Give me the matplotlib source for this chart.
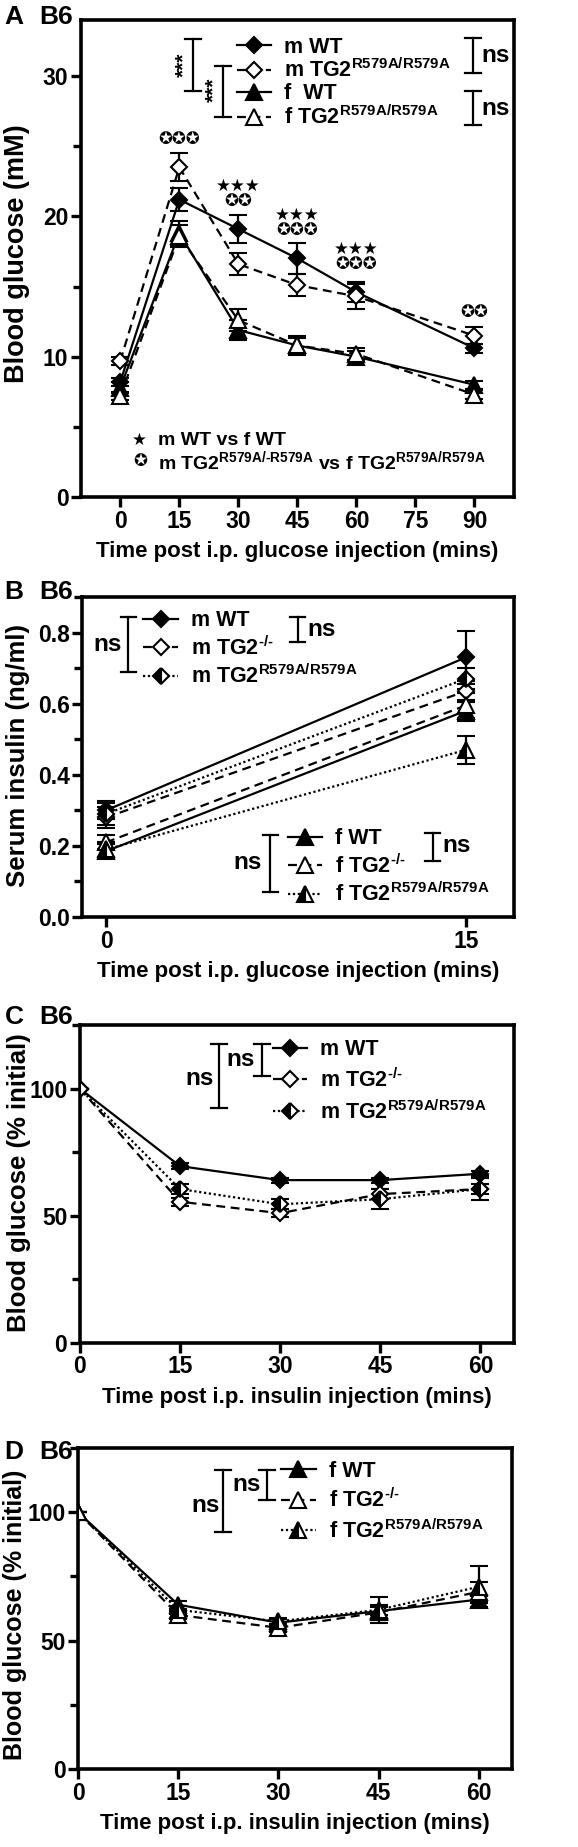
import matplotlib.pyplot as plt
from matplotlib.ticker import MultipleLocator

# ---- data ----
# A: blood glucose (mM) after i.p. glucose
time_a = [0, 15, 30, 45, 60, 90]
a_m_wt = [8.2, 21.2, 19.1, 17.0, 14.6, 10.6]
a_m_wt_err = [0.3, 0.8, 1.0, 1.1, 0.7, 0.3]
a_m_ki = [9.7, 23.5, 16.6, 15.1, 14.3, 11.5]
a_m_ki_err = [0.3, 1.0, 0.8, 0.8, 0.9, 0.6]
a_f_wt = [7.8, 18.8, 11.9, 10.8, 10.0, 8.0]
a_f_wt_err = [0.4, 0.9, 0.7, 0.7, 0.4, 0.3]
a_f_ki = [7.2, 18.6, 12.6, 10.8, 10.2, 7.3]
a_f_ki_err = [0.3, 0.8, 0.8, 0.5, 0.4, 0.3]
a_labels = ["m WT", "m TG2$^{R579A/R579A}$", "f  WT", "f TG2$^{R579A/R579A}$"]
a_star_x = [30, 45, 60]
a_star_y = [22.2, 20.1, 17.7]
a_circ_x = [15, 30, 45, 60, 90]
a_circ_y = [25.5, 21.1, 19.0, 16.6, 13.2]
a_circ_n = [3, 2, 3, 3, 2]

# B: serum insulin (ng/ml)
time_b = [0, 15]
b_m_wt = [0.30, 0.73]
b_m_wt_err = [0.025, 0.075]
b_m_ko = [0.28, 0.635]
b_m_ko_err = [0.03, 0.03]
b_m_ki = [0.29, 0.67]
b_m_ki_err = [0.03, 0.03]
b_f_wt = [0.185, 0.58]
b_f_wt_err = [0.02, 0.03]
b_f_ko = [0.21, 0.595]
b_f_ko_err = [0.02, 0.035]
b_f_ki = [0.19, 0.47]
b_f_ki_err = [0.02, 0.04]
b_m_labels = ["m WT", "m TG2$^{\u2010/\u2010}$", "m TG2$^{R579A/R579A}$"]
b_f_labels = ["f WT", "f TG2$^{\u2010/\u2010}$", "f TG2$^{R579A/R579A}$"]

# C: males, blood glucose (% initial) after i.p. insulin
time_cd = [0, 15, 30, 45, 60]
c_wt = [100, 69.5, 64, 64, 66.5]
c_wt_err = [0, 1.2, 1.0, 1.0, 1.0]
c_ko = [100, 55.5, 51, 58.5, 60.5]
c_ko_err = [0, 1.5, 1.5, 2.0, 2.0]
c_ki = [100, 60.5, 54.5, 56.5, 60.5]
c_ki_err = [0, 2.0, 2.0, 4.0, 4.3]
c_labels = ["m WT", "m TG2$^{\u2010/\u2010}$", "m TG2$^{R579A/R579A}$"]

# D: females
d_wt = [100, 64, 57, 61.5, 66]
d_wt_err = [0, 1.5, 1.5, 1.5, 1.5]
d_ko = [100, 60, 55, 61, 69]
d_ko_err = [0, 1.5, 1.5, 3.0, 4.0]
d_ki = [100, 62, 57.5, 62, 71]
d_ki_err = [0, 1.5, 1.5, 5.0, 8.0]
d_labels = ["f WT", "f TG2$^{\u2010/\u2010}$", "f TG2$^{R579A/R579A}$"]

# ---- style ----
plt.rcParams['font.family'] = ['Liberation Sans', 'DejaVu Sans']
plt.rcParams['font.weight'] = 'bold'
plt.rcParams['axes.labelweight'] = 'bold'
plt.rcParams['mathtext.fontset'] = 'custom'
plt.rcParams['mathtext.rm'] = 'Liberation Sans:bold'
plt.rcParams['mathtext.default'] = 'rm'

TICK = 16.5
XLAB = 16
LEG = 15.5
NS = 17.5

filled_d = dict(marker='D', ms=8.5, mfc='black', mec='black')
open_d = dict(marker='D', ms=8.5, mfc='white', mec='black')
half_d = dict(marker='D', ms=8.5, mfc='black', mfcalt='white', mec='black', fillstyle='left')
filled_t = dict(marker='^', ms=11.5, mfc='black', mec='black')
open_t = dict(marker='^', ms=11.5, mfc='white', mec='black')
half_t = dict(marker='^', ms=11.5, mfc='black', mfcalt='white', mec='black', fillstyle='left')
SOLID = '-'
DASH = (0, (4, 2.5))
DOT = (0, (1, 1.2))


def series(ax, x, y, err, ls, mk):
    cont = ax.errorbar(x, y, yerr=err, color='black', ls=ls, lw=1.6,
                       elinewidth=1.6, capsize=6.5, capthick=1.6, mew=1.5,
                       zorder=3, **mk)
    return cont[0]


def style_axes(ax, xlim, ylim, xticks, yticks, yminor):
    ax.set_xlim(*xlim)
    ax.set_ylim(*ylim)
    ax.set_xticks(xticks)
    ax.set_yticks(yticks)
    ax.yaxis.set_minor_locator(MultipleLocator(yminor))
    for s in ax.spines.values():
        s.set_linewidth(2.6)
    ax.tick_params(which='major', direction='out', length=7, width=2.4,
                   labelsize=TICK, pad=2)
    ax.tick_params(which='minor', direction='out', length=6, width=2.4)
    ax.tick_params(axis='x', which='minor', bottom=False)


def labels(ax, xlab, ylab, ysize, yx, yy):
    ax.set_xlabel(xlab, fontsize=XLAB, labelpad=6)
    ax.set_ylabel(ylab, fontsize=ysize)
    ax.yaxis.set_label_coords(yx, yy)


def bracket(ax, x, y0, y1, cap=0.018):
    kw = dict(color='black', lw=1.6, transform=ax.transAxes, clip_on=False)
    ax.plot([x, x], [y0, y1], **kw)
    ax.plot([x - cap, x + cap], [y0, y0], **kw)
    ax.plot([x - cap, x + cap], [y1, y1], **kw)


def legend(ax, handles, labs, x, y, spacing):
    ax.legend(handles, labs, loc='upper left', bbox_to_anchor=(x, y),
              frameon=False, fontsize=LEG, handlelength=1.6,
              handletextpad=0.6, labelspacing=spacing, borderpad=0,
              borderaxespad=0, numpoints=1)


def ns(ax, x, y, ha='center'):
    ax.text(x, y, "ns", fontsize=NS, ha=ha, va='center', transform=ax.transAxes)


fig = plt.figure(figsize=(5.78, 18.47), dpi=100)

# ---------------- A ----------------
ax = fig.add_axes([0.140, 0.7309, 0.749, 0.2583])
h1 = series(ax, time_a, a_m_wt, a_m_wt_err, SOLID, filled_d)
h2 = series(ax, time_a, a_m_ki, a_m_ki_err, DASH, open_d)
h3 = series(ax, time_a, a_f_wt, a_f_wt_err, SOLID, filled_t)
h4 = series(ax, time_a, a_f_ki, a_f_ki_err, DASH, open_t)
style_axes(ax, (-10, 100), (0, 34), [0, 15, 30, 45, 60, 75, 90], [0, 10, 20, 30], 5)
labels(ax, "Time post i.p. glucose injection (mins)", "Blood glucose (mM)", 19.5, -0.118, 0.51)
legend(ax, [h1, h2, h3, h4], a_labels, 0.36, 0.965, 0.05)
bracket(ax, 0.259, 0.960, 0.851)
bracket(ax, 0.328, 0.904, 0.797)
bracket(ax, 0.905, 0.962, 0.889)
bracket(ax, 0.905, 0.851, 0.780)
ax.text(0.238, 0.906, "***", rotation=90, fontsize=15, ha='center', va='center', transform=ax.transAxes)
ax.text(0.307, 0.853, "***", rotation=90, fontsize=15, ha='center', va='center', transform=ax.transAxes)
ns(ax, 0.924, 0.925, 'left')
ns(ax, 0.924, 0.815, 'left')
for x, y in zip(a_star_x, a_star_y):
    ax.text(x, y, "\u2605\u2605\u2605", fontsize=12, family='DejaVu Sans',
            ha='center', va='center')
for x, y, n in zip(a_circ_x, a_circ_y, a_circ_n):
    ax.text(x, y, "\u272a" * n, fontsize=12, family='DejaVu Sans',
            ha='center', va='center')
ax.text(0.136, 0.119, "\u2605", fontsize=12, family='DejaVu Sans', ha='center', va='center', transform=ax.transAxes)
ax.text(0.136, 0.075, "\u272a", fontsize=12, family='DejaVu Sans', ha='center', va='center', transform=ax.transAxes)
ax.text(0.178, 0.119, "m WT vs f WT", fontsize=14, ha='left', va='center', transform=ax.transAxes)
ax.text(0.178, 0.075, "m TG2$^{R579A/\u2010R579A}$ vs f TG2$^{R579A/R579A}$", fontsize=14,
        ha='left', va='center', transform=ax.transAxes)

# ---------------- B ----------------
ax = fig.add_axes([0.142, 0.5035, 0.747, 0.1733])
g1 = series(ax, time_b, b_m_wt, b_m_wt_err, SOLID, filled_d)
g2 = series(ax, time_b, b_m_ko, b_m_ko_err, DASH, open_d)
g3 = series(ax, time_b, b_m_ki, b_m_ki_err, DOT, half_d)
g4 = series(ax, time_b, b_f_wt, b_f_wt_err, SOLID, filled_t)
g5 = series(ax, time_b, b_f_ko, b_f_ko_err, DASH, open_t)
g6 = series(ax, time_b, b_f_ki, b_f_ki_err, DOT, half_t)
style_axes(ax, (-1, 17), (0, 0.9), time_b, [0, 0.2, 0.4, 0.6, 0.8], 0.1)
ax.yaxis.set_major_formatter(plt.FormatStrFormatter('%.1f'))
labels(ax, "Time post i.p. glucose injection (mins)", "Serum insulin (ng/ml)", 18.5, -0.121, 0.506)
legend(ax, [g1, g2, g3], b_m_labels, 0.142, 0.958, 0.22)
ax.add_artist(ax.get_legend())
legend(ax, [g4, g5, g6], b_f_labels, 0.476, 0.277, 0.22)
bracket(ax, 0.107, 0.9375, 0.766)
bracket(ax, 0.499, 0.9375, 0.859)
bracket(ax, 0.436, 0.256, 0.078)
bracket(ax, 0.812, 0.2625, 0.175)
ns(ax, 0.060, 0.85)
ns(ax, 0.522, 0.897, 'left')
ns(ax, 0.383, 0.169)
ns(ax, 0.835, 0.225, 'left')

# ---------------- C ----------------
ax = fig.add_axes([0.138, 0.2729, 0.751, 0.1722])
k1 = series(ax, time_cd, c_wt, c_wt_err, SOLID, filled_d)
k2 = series(ax, time_cd, c_ko, c_ko_err, DASH, open_d)
k3 = series(ax, time_cd, c_ki, c_ki_err, DOT, half_d)
style_axes(ax, (0, 65), (0, 125), time_cd, [0, 50, 100], 25)
labels(ax, "Time post i.p. insulin injection (mins)", "Blood glucose (% initial)", 18.5, -0.113, 0.505)
legend(ax, [k1, k2, k3], c_labels, 0.445, 0.955, 0.38)
bracket(ax, 0.321, 0.940, 0.740)
bracket(ax, 0.420, 0.940, 0.840)
ns(ax, 0.277, 0.830)
ns(ax, 0.370, 0.890)

# ---------------- D ----------------
ax = fig.add_axes([0.135, 0.0422, 0.751, 0.1738])
m1 = series(ax, time_cd, d_wt, d_wt_err, SOLID, filled_t)
m2 = series(ax, time_cd, d_ko, d_ko_err, DASH, open_t)
m3 = series(ax, time_cd, d_ki, d_ki_err, DOT, half_t)
style_axes(ax, (0, 65), (0, 125), time_cd, [0, 50, 100], 25)
labels(ax, "Time post i.p. insulin injection (mins)", "Blood glucose (% initial)", 18, -0.118, 0.48)
legend(ax, [m1, m2, m3], d_labels, 0.468, 0.96, 0.32)
bracket(ax, 0.334, 0.931, 0.738)
bracket(ax, 0.435, 0.931, 0.838)
ns(ax, 0.293, 0.822)
ns(ax, 0.389, 0.885)

# panel tags
for y, tag in [(17, "A"), (592, "B"), (1017, "C"), (1452, "D")]:
    fig.text(0.008, 1 - y / 1847, tag, fontsize=19, va='center', ha='left')
    fig.text(0.068, 1 - y / 1847, "B6", fontsize=19, va='center', ha='left')

fig.savefig("out.png", dpi=100)
